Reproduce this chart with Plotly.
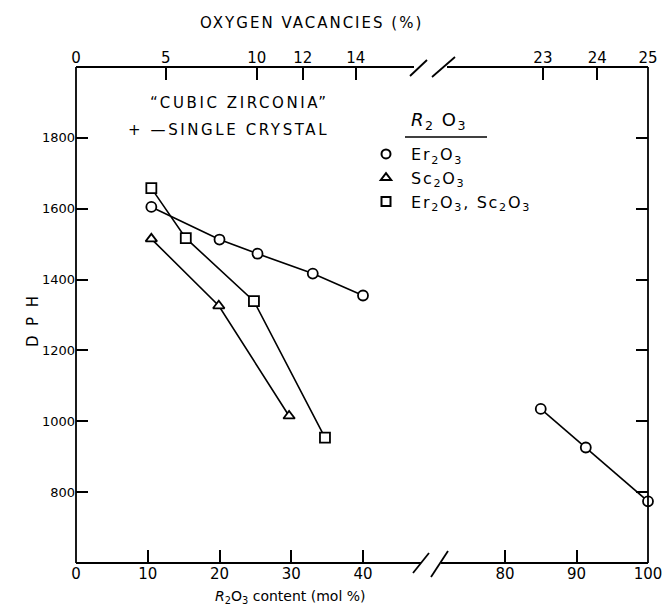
import plotly.graph_objects as go

# ---------------- data ----------------
er_mol = [10.5, 20, 25.3, 33, 40, 85, 91.3, 100]
er_dph = [1605, 1513, 1473, 1417, 1355, 1035, 926, 774]

sc_mol = [10.5, 19.9, 29.7]
sc_dph = [1515, 1326, 1015]

mix_mol = [10.5, 15.3, 24.8, 34.7]
mix_dph = [1658, 1517, 1339, 954]

bottom_ticks_left = [0, 10, 20, 30, 40]
bottom_ticks_right = [80, 90, 100]

# top axis: oxygen vacancy (%) labels and their positions on the mol % scale
vac_labels_left = ["0", "5", "10", "12", "14"]
vac_pos_left = [0, 12.5, 25.2, 31.6, 39.0]
vac_labels_right = ["23", "24", "25"]
vac_pos_right = [85.3, 92.9, 100]

dph_ticks = [800, 1000, 1200, 1400, 1600, 1800]

# ---------------- layout geometry ----------------
W, H = 664, 612
L, R, T, B = 76, 16, 67, 49
PW = W - L - R
PH = H - T - B
split_px = 432          # where the broken axis splits
left_range = [0, (split_px - L) / 7.175]
right_range = [80 - (505 - split_px) / 7.15, 100]
fsplit = (split_px - L) / PW

BREAK = 50              # values below are drawn on the left segment

def px(x):
    return (x - L) / PW

def py(y):
    return (H - B - y) / PH

def spaced(t, s):
    return '<span style="letter-spacing:%spx">%s</span>' % (s, t)

FONT = "DejaVu Sans"
fig = go.Figure()

series = [
    ("Er<sub>2</sub>O<sub>3</sub>", er_mol, er_dph, "circle"),
    ("Sc<sub>2</sub>O<sub>3</sub>", sc_mol, sc_dph, "triangle-up"),
    ("Er<sub>2</sub>O<sub>3</sub>, Sc<sub>2</sub>O<sub>3</sub>", mix_mol, mix_dph, "square"),
]

for name, xs, ys, sym in series:
    lx = [x for x in xs if x < BREAK]
    ly = [y for x, y in zip(xs, ys) if x < BREAK]
    rx = [x for x in xs if x >= BREAK]
    ry = [y for x, y in zip(xs, ys) if x >= BREAK]
    for sx, sy, xa in ((lx, ly, "x"), (rx, ry, "x2")):
        if not sx:
            continue
        fig.add_trace(go.Scatter(
            x=sx, y=sy, xaxis=xa, yaxis="y", mode="lines+markers",
            line=dict(color="black", width=1.6),
            marker=dict(symbol=sym, size=10, color="white",
                        line=dict(color="black", width=1.8)),
            showlegend=False, hoverinfo="skip", cliponaxis=False))
    # legend entry
    fig.add_trace(go.Scatter(
        x=[None], y=[None], xaxis="x", yaxis="y", mode="markers",
        name="\u00a0" + spaced(name, 1.7),
        marker=dict(symbol=sym, size=9, color="white",
                    line=dict(color="black", width=2)),
        showlegend=True))

tickfont = dict(family=FONT, size=15, color="black")
common_x = dict(showgrid=False, zeroline=False, showline=False, automargin=False,
                ticks="inside", ticklen=13, tickwidth=1.5, tickcolor="black",
                tickfont=tickfont, fixedrange=True, ticklabeloverflow="allow")

shapes = []
ln = dict(color="black", width=1.8)
# frame
shapes.append(dict(type="line", xref="paper", yref="paper", x0=0, x1=0, y0=0, y1=1, line=ln))
shapes.append(dict(type="line", xref="paper", yref="paper", x0=1, x1=1, y0=0, y1=1, line=ln))
# bottom axis with break
shapes.append(dict(type="line", xref="paper", yref="paper", x0=0, x1=px(421), y0=0, y1=0, line=ln))
shapes.append(dict(type="line", xref="paper", yref="paper", x0=px(441), x1=1, y0=0, y1=0, line=ln))
shapes.append(dict(type="line", xref="paper", yref="paper", x0=px(413), x1=px(429), y0=py(573), y1=py(553), line=ln))
shapes.append(dict(type="line", xref="paper", yref="paper", x0=px(431), x1=px(448), y0=py(577), y1=py(551), line=ln))
# top axis with break
shapes.append(dict(type="line", xref="paper", yref="paper", x0=0, x1=px(414), y0=1, y1=1, line=ln))
shapes.append(dict(type="line", xref="paper", yref="paper", x0=px(447), x1=1, y0=1, y1=1, line=ln))
shapes.append(dict(type="line", xref="paper", yref="paper", x0=px(410), x1=px(427), y0=py(76), y1=py(60), line=ln))
shapes.append(dict(type="line", xref="paper", yref="paper", x0=px(432), x1=px(455), y0=py(77), y1=py(57), line=ln))
# legend title underline
shapes.append(dict(type="line", xref="paper", yref="paper", x0=px(405), x1=px(487), y0=py(137), y1=py(137),
                   line=dict(color="black", width=1.5)))

afont = dict(family=FONT, size=15, color="black")
annotations = [
    dict(text=spaced("OXYGEN VACANCIES (%)", 2), x=px(311), y=py(23), xref="paper", yref="paper",
         showarrow=False, xanchor="center", yanchor="middle", font=afont),
    dict(text="<i>R</i><sub>2</sub>O<sub>3</sub> content (mol %)", x=px(290), y=py(597),
         xref="paper", yref="paper", showarrow=False, xanchor="center", yanchor="middle",
         font=dict(family=FONT, size=14, color="black")),
    dict(text="D\u00a0\u00a0P\u00a0\u00a0H", x=px(33), y=py(322), xref="paper", yref="paper", textangle=-90,
         showarrow=False, xanchor="center", yanchor="middle", font=dict(family=FONT, size=15, color="black")),
    dict(text=spaced("\u201cCUBIC ZIRCONIA\u201d", 2.6), x=px(239), y=py(103), xref="paper", yref="paper",
         showarrow=False, xanchor="center", yanchor="middle", font=afont),
    dict(text=spaced("+ \u2014SINGLE CRYSTAL", 2.6), x=px(126), y=py(130), xref="paper", yref="paper",
         showarrow=False, xanchor="left", yanchor="middle", font=afont),
    dict(text=spaced("<i>R</i><sub>2</sub> O<sub>3</sub>", 1.5), x=px(409), y=py(121), xref="paper", yref="paper",
         showarrow=False, xanchor="left", yanchor="middle", font=dict(family=FONT, size=18, color="black")),
]

fig.update_layout(
    width=W, height=H, autosize=False,
    margin=dict(l=L, r=R, t=T, b=B, pad=0, autoexpand=False),
    paper_bgcolor="white", plot_bgcolor="white",
    xaxis=dict(domain=[0, fsplit], range=left_range, anchor="y",
               tickvals=bottom_ticks_left, ticktext=[str(v) for v in bottom_ticks_left], **common_x),
    xaxis2=dict(domain=[fsplit, 1], range=right_range, anchor="y",
                tickvals=bottom_ticks_right, ticktext=[str(v) for v in bottom_ticks_right], **common_x),
    xaxis3=dict(overlaying="x", side="top", range=left_range, anchor="y",
                tickvals=vac_pos_left, ticktext=vac_labels_left, **common_x),
    xaxis4=dict(overlaying="x2", side="top", range=right_range, anchor="y",
                tickvals=vac_pos_right, ticktext=vac_labels_right, **common_x),
    yaxis=dict(range=[600, 2000], anchor="x", showgrid=False, zeroline=False, showline=False,
               automargin=False, tickvals=dph_ticks, ticks="inside", ticklen=12, tickwidth=1.5,
               tickcolor="black", tickfont=dict(family=FONT, size=13, color="black"), fixedrange=True),
    yaxis2=dict(range=[600, 2000], overlaying="y", side="right", anchor="x2", showgrid=False,
                automargin=False, zeroline=False, showline=False, tickvals=dph_ticks, ticks="inside",
                ticklen=12, tickwidth=1.5, tickcolor="black", showticklabels=False, fixedrange=True),
    legend=dict(x=px(366), y=py(137), xanchor="left", yanchor="top",
                font=dict(family=FONT, size=16, color="black"),
                bgcolor="rgba(0,0,0,0)", borderwidth=0, itemclick=False, itemdoubleclick=False),
    shapes=shapes, annotations=annotations,
    showlegend=True,
)

# dummy traces so the top / right axes are active
fig.add_trace(go.Scatter(x=[None], y=[None], xaxis="x3", yaxis="y", showlegend=False, hoverinfo="skip"))
fig.add_trace(go.Scatter(x=[None], y=[None], xaxis="x4", yaxis="y", showlegend=False, hoverinfo="skip"))
fig.add_trace(go.Scatter(x=[None], y=[None], xaxis="x2", yaxis="y2", showlegend=False, hoverinfo="skip"))

fig.write_html(
    "out.html",
    config={"displayModeBar": False, "responsive": False},
    post_script="document.body.style.margin='0';document.documentElement.style.overflow='hidden';document.body.style.overflow='hidden';",
)
